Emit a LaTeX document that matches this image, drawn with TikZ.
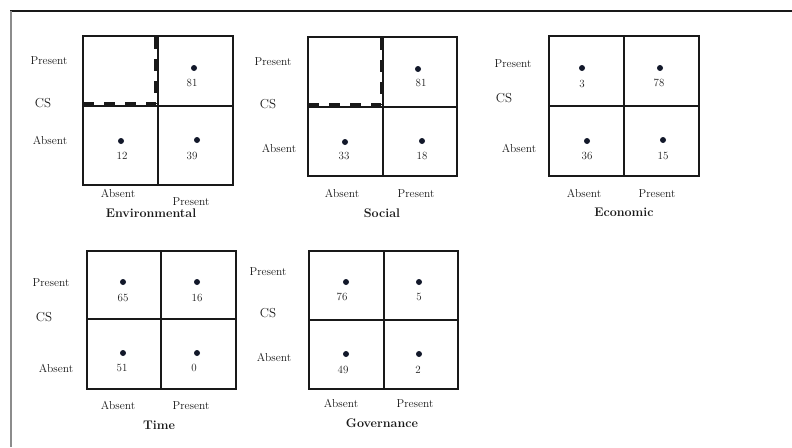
\documentclass[tikz,border=0pt]{standalone}
\definecolor{dotc}{RGB}{18,24,42}
\definecolor{ink}{RGB}{25,25,25}
\begin{document}
\begin{tikzpicture}[x=1pt,y=-1pt,
  topbar/.style={draw=ink, line width=2pt},
  sidebar/.style={draw=black!45, line width=1.5pt},
  cell/.style={draw=ink, line width=1.5pt},
  split/.style={draw=ink, line width=1.8pt},
  dashline/.style={draw=ink, line width=3pt, dash pattern=on 12pt off 10pt},
  dashrow/.style={draw=ink, line width=3pt, dash pattern=on 11pt off 10pt},
  dot/.style={circle, fill=dotc, inner sep=0pt, minimum size=6pt},
  num/.style={font=\fontsize{11}{13}\selectfont, inner sep=0pt, text=ink},
  lab/.style={font=\fontsize{11.5}{13}\selectfont, inner sep=0pt, text=ink},
  cslab/.style={font=\fontsize{13}{15}\selectfont, inner sep=0pt, text=ink},
  title/.style={font=\bfseries\fontsize{12.5}{14}\selectfont, inner sep=0pt, text=ink}]
\useasboundingbox (0,0) rectangle (792,447);

% page frame: heavy rule on top, light rule down the left
\coordinate (tl) at (10,11);
\coordinate (tr) at (792,11);
\coordinate (bl) at (10.75,447);
\draw[topbar] (tl) -- (tr);
\draw[sidebar] (10.75,11) -- (bl);

% ---------------- Environmental ----------------
\draw[cell] (83,36) rectangle (233,185);
\draw[split] (158,36) -- (158,185);
\draw[split] (83,106) -- (233,106);
\draw[dashline] (155.5,37) -- (155.5,104);
\draw[dashrow] (83,103.5) -- (155.5,103.5);
\node[lab] (env-yp) at (49,61) {Present};
\node[cslab] (env-cs) at (43,103) {CS};
\node[lab] (env-ya) at (50,140) {Absent};
\node[dot] (env-d2) at (194,68) {};
\node[num] (env-n2) at (192,83) {81};
\node[dot] (env-d3) at (121,141) {};
\node[num] (env-n3) at (122,156) {12};
\node[dot] (env-d4) at (197,140) {};
\node[num] (env-n4) at (192,156) {39};
\node[lab] (env-xa) at (118,193) {Absent};
\node[lab] (env-xp) at (191,202) {Present};
\node[title] (env-t) at (151,213) {Environmental};

% ---------------- Social ----------------
\draw[cell] (308,37) rectangle (457,176);
\draw[split] (383,37) -- (383,176);
\draw[split] (308,107) -- (457,107);
\draw[dashline] (381,38) -- (381,105);
\draw[dashrow] (308,104.5) -- (381,104.5);
\node[lab] (soc-yp) at (273,62) {Present};
\node[cslab] (soc-cs) at (268,104) {CS};
\node[lab] (soc-ya) at (279,148) {Absent};
\node[dot] (soc-d2) at (418,69) {};
\node[num] (soc-n2) at (421,83) {81};
\node[dot] (soc-d3) at (345,142) {};
\node[num] (soc-n3) at (344,156) {33};
\node[dot] (soc-d4) at (422,141) {};
\node[num] (soc-n4) at (422,156) {18};
\node[lab] (soc-xa) at (342,193) {Absent};
\node[lab] (soc-xp) at (416,194) {Present};
\node[title] (soc-t) at (382,213) {Social};

% ---------------- Economic ----------------
\draw[cell] (549,36) rectangle (699,176);
\draw[split] (624,36) -- (624,176);
\draw[split] (549,106) -- (699,106);
\node[lab] (eco-yp) at (513,64) {Present};
\node[cslab] (eco-cs) at (504,98) {CS};
\node[lab] (eco-ya) at (519,148) {Absent};
\node[dot] (eco-d1) at (582,68) {};
\node[num] (eco-n1) at (582,84) {3};
\node[dot] (eco-d2) at (660,68) {};
\node[num] (eco-n2) at (659,83) {78};
\node[dot] (eco-d3) at (587,141) {};
\node[num] (eco-n3) at (587,156) {36};
\node[dot] (eco-d4) at (663,140) {};
\node[num] (eco-n4) at (663,156) {15};
\node[lab] (eco-xa) at (584,193) {Absent};
\node[lab] (eco-xp) at (657,194) {Present};
\node[title] (eco-t) at (624,212) {Economic};

% ---------------- Time ----------------
\draw[cell] (87,251) rectangle (236,389);
\draw[split] (161,251) -- (161,389);
\draw[split] (87,319) -- (236,319);
\node[lab] (tim-yp) at (51,283) {Present};
\node[cslab] (tim-cs) at (44,317) {CS};
\node[lab] (tim-ya) at (56,368) {Absent};
\node[dot] (tim-d1) at (123,282) {};
\node[num] (tim-n1) at (123,298) {65};
\node[dot] (tim-d2) at (197,282) {};
\node[num] (tim-n2) at (197,298) {16};
\node[dot] (tim-d3) at (123,353) {};
\node[num] (tim-n3) at (122,368) {51};
\node[dot] (tim-d4) at (197,353) {};
\node[num] (tim-n4) at (194,368) {0};
\node[lab] (tim-xa) at (118,405) {Absent};
\node[lab] (tim-xp) at (191,406) {Present};
\node[title] (tim-t) at (159,425) {Time};

% ---------------- Governance ----------------
\draw[cell] (309,251) rectangle (458,389);
\draw[split] (384,251) -- (384,389);
\draw[split] (309,320) -- (458,320);
\node[lab] (gov-yp) at (268,272) {Present};
\node[cslab] (gov-cs) at (268,313) {CS};
\node[lab] (gov-ya) at (274,357) {Absent};
\node[dot] (gov-d1) at (346,282) {};
\node[num] (gov-n1) at (342,297) {76};
\node[dot] (gov-d2) at (419,282) {};
\node[num] (gov-n2) at (419,297) {5};
\node[dot] (gov-d3) at (346,354) {};
\node[num] (gov-n3) at (343,370) {49};
\node[dot] (gov-d4) at (419,354) {};
\node[num] (gov-n4) at (418,370) {2};
\node[lab] (gov-xa) at (341,403) {Absent};
\node[lab] (gov-xp) at (415,404) {Present};
\node[title] (gov-t) at (382,423) {Governance};
\end{tikzpicture}
\end{document}
